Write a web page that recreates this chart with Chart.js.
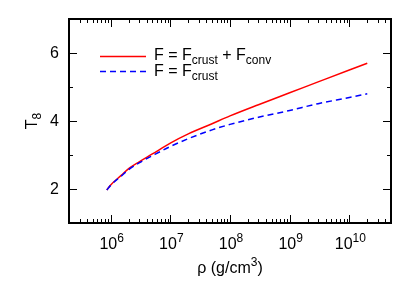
<!DOCTYPE html>
<html>
<head>
<meta charset="utf-8">
<script src="https://cdn.jsdelivr.net/npm/chart.js@4.4.1/dist/chart.umd.min.js"></script>
<style>
  html, body { margin: 0; padding: 0; background: #fff; }
  #wrap { width: 415px; height: 291px; }
</style>
</head>
<body>
<div id="wrap"><canvas id="tempChart"></canvas></div>
<script>
// density (g/cm^3) and T8
var rho = [8.6e5, 1e6, 1.5e6, 2e6, 3e6, 5e6, 1e7, 2e7, 5e7, 1e8, 3e8, 1e9, 3e9, 1e10, 2e10];
var tCrustConv = [1.97, 2.12, 2.40, 2.60, 2.80, 3.03, 3.35, 3.62, 3.92, 4.15, 4.48, 4.83, 5.15, 5.50, 5.70];
var tCrust = [1.97, 2.11, 2.38, 2.57, 2.77, 2.98, 3.25, 3.48, 3.74, 3.90, 4.11, 4.31, 4.51, 4.69, 4.80];

var xTickVals = [1e6, 1e7, 1e8, 1e9, 1e10];
var xTickExps = ["6", "7", "8", "9", "10"];
var yTickVals = [2, 4, 6];

var FONT = "'Liberation Sans', Arial, sans-serif";

function pts(ys) {
  return rho.map(function (r, i) { return { x: r, y: ys[i] }; });
}

function drawScript(ctx, parts, x, y) {
  var cx = x;
  parts.forEach(function (p) {
    ctx.font = p.size + "px " + FONT;
    ctx.fillText(p.t, cx, y + (p.dy || 0));
    cx += ctx.measureText(p.t).width;
  });
  return cx - x;
}
function scriptWidth(ctx, parts) {
  var w = 0;
  parts.forEach(function (p) {
    ctx.font = p.size + "px " + FONT;
    w += ctx.measureText(p.t).width;
  });
  return w;
}

var gnuplotFrame = {
  id: "gnuplotFrame",
  afterDraw: function (chart) {
    var ctx = chart.ctx;
    var a = chart.chartArea;
    var xs = chart.scales.x, ys = chart.scales.y;
    var L = Math.round(a.left), R = Math.round(a.right), T = Math.round(a.top), B = Math.round(a.bottom);
    ctx.save();
    ctx.fillStyle = "#000";

    // box (2px lines)
    ctx.fillRect(L - 1, T - 1, R - L + 2, 2);
    ctx.fillRect(L - 1, B - 1, R - L + 2, 2);
    ctx.fillRect(L - 1, T - 1, 2, B - T + 2);
    ctx.fillRect(R - 1, T - 1, 2, B - T + 2);

    // inward ticks on all four sides
    for (var e = 5; e <= 10; e++) {
      for (var m = 1; m <= 9; m++) {
        var v = m * Math.pow(10, e);
        if (v < xs.min || v > xs.max) continue;
        var px = Math.round(xs.getPixelForValue(v));
        var len = m === 1 ? 8 : 4;
        ctx.fillRect(px, B - len, 1, len);
        ctx.fillRect(px, T, 1, len);
      }
    }
    for (var t = 1; t <= 7; t++) {
      var py = Math.round(ys.getPixelForValue(t));
      var l = t % 2 === 0 ? 8 : 4;
      ctx.fillRect(L, py, l, 1);
      ctx.fillRect(R - l, py, l, 1);
    }

    ctx.textBaseline = "alphabetic";
    ctx.textAlign = "left";
    xTickVals.forEach(function (v, i) {
      var parts = [{ t: "10", size: 16 }, { t: xTickExps[i], size: 12, dy: -7 }];
      var w = scriptWidth(ctx, parts);
      var px = xs.getPixelForValue(v);
      drawScript(ctx, parts, px - w / 2 + 1, 249);
    });

    ctx.font = "16px " + FONT;
    ctx.textAlign = "right";
    ctx.textBaseline = "middle";
    yTickVals.forEach(function (v) {
      ctx.fillText(String(v), L - 10, ys.getPixelForValue(v) + 1);
    });

    ctx.textAlign = "left";
    ctx.textBaseline = "alphabetic";
    var xt = [{ t: "\u03c1 (g/cm", size: 16 }, { t: "3", size: 12, dy: -7 }, { t: ")", size: 16 }];
    var xw = scriptWidth(ctx, xt);
    drawScript(ctx, xt, (L + R) / 2 - xw / 2, 273);

    var yt = [{ t: "T", size: 16 }, { t: "8", size: 12, dy: 4 }];
    var yw = scriptWidth(ctx, yt);
    ctx.save();
    ctx.translate(37, (T + B) / 2);
    ctx.rotate(-Math.PI / 2);
    drawScript(ctx, yt, -yw / 2, 0);
    ctx.restore();

    // legend
    ctx.lineWidth = 1.5;
    ctx.strokeStyle = "#ff0000";
    ctx.beginPath(); ctx.moveTo(100, 56.5); ctx.lineTo(146, 56.5); ctx.stroke();
    ctx.strokeStyle = "#0000ff";
    ctx.setLineDash([6, 4]);
    ctx.beginPath(); ctx.moveTo(100, 71.5); ctx.lineTo(146, 71.5); ctx.stroke();
    ctx.setLineDash([]);
    ctx.fillStyle = "#000";
    drawScript(ctx, [
      { t: "F = F", size: 16 }, { t: "crust", size: 12, dy: 4 },
      { t: " + F", size: 16 }, { t: "conv", size: 12, dy: 4 }
    ], 154, 60);
    drawScript(ctx, [{ t: "F = F", size: 16 }, { t: "crust", size: 12, dy: 4 }], 154, 76);

    ctx.restore();
  }
};

var ctx = document.getElementById("tempChart").getContext("2d");
var chart = new Chart(ctx, {
  type: "line",
  data: {
    datasets: [
      {
        label: "F = Fcrust + Fconv",
        data: pts(tCrustConv),
        borderColor: "#ff0000",
        borderWidth: 1.5,
        pointRadius: 0,
        cubicInterpolationMode: "monotone",
        fill: false,
        order: 1
      },
      {
        label: "F = Fcrust",
        data: pts(tCrust),
        borderColor: "#0000ff",
        borderWidth: 1.5,
        borderDash: [6, 4],
        pointRadius: 0,
        cubicInterpolationMode: "monotone",
        fill: false,
        order: 0
      }
    ]
  },
  options: {
    responsive: true,
    maintainAspectRatio: false,
    animation: false,
    layout: { padding: { left: 69, right: 24, top: 19, bottom: 68 } },
    scales: {
      x: { type: "logarithmic", min: 2e5, max: 5e10, display: false },
      y: { type: "linear", min: 1, max: 7, display: false }
    },
    plugins: {
      legend: { display: false },
      tooltip: { enabled: false }
    }
  },
  plugins: [gnuplotFrame]
});
</script>
</body>
</html>
